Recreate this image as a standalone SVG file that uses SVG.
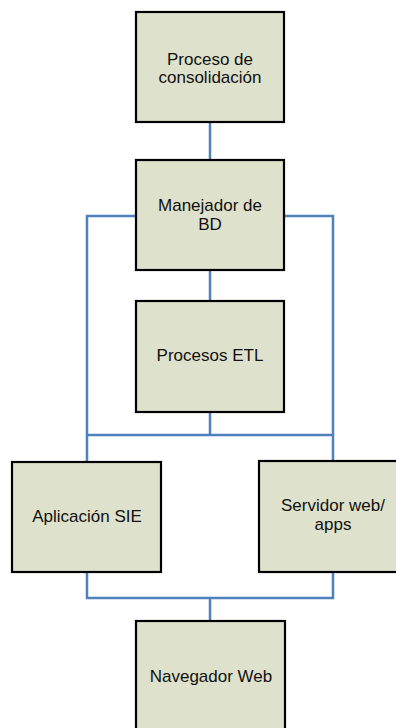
<svg xmlns="http://www.w3.org/2000/svg" width="396" height="728" viewBox="0 0 396 728">
  <style>
    .box { fill: #dee1cb; stroke: #000000; stroke-width: 2.2; }
    .lbl { font-family: "Liberation Sans", Arial, sans-serif; font-size: 17px; fill: #111111; text-anchor: middle; }
    .wire { fill: none; stroke: #4f81bd; stroke-width: 2.5; }
  </style>
  <rect width="396" height="728" fill="#ffffff"/>

  <!-- connectors -->
  <g id="connectors">
    <path class="wire" d="M210,122 V160"/>
    <path class="wire" d="M136,216 H87 V462"/>
    <path class="wire" d="M284,216 H333 V461"/>
    <path class="wire" d="M210,270 V301"/>
    <path class="wire" d="M210,412 V435"/>
    <path class="wire" d="M87,435 H333"/>
    <path class="wire" d="M87,572 V598 H333 V572"/>
    <path class="wire" d="M210,598 V621"/>
  </g>

  <g id="consolidacion">
    <rect class="box" x="136" y="12" width="148" height="110"/>
    <text class="lbl" x="210" y="65">Proceso de</text>
    <text class="lbl" x="210" y="83">consolidación</text>
  </g>

  <g id="manejador-bd">
    <rect class="box" x="136" y="160" width="148" height="110"/>
    <text class="lbl" x="210" y="211">Manejador de</text>
    <text class="lbl" x="210" y="230">BD</text>
  </g>

  <g id="procesos-etl">
    <rect class="box" x="136" y="301" width="148" height="111"/>
    <text class="lbl" x="210" y="361">Procesos ETL</text>
  </g>

  <g id="aplicacion-sie">
    <rect class="box" x="12" y="462" width="149" height="110"/>
    <text class="lbl" x="87" y="522">Aplicación SIE</text>
  </g>

  <g id="servidor-web">
    <rect class="box" x="259" y="461" width="148" height="111"/>
    <text class="lbl" x="333" y="511">Servidor web/</text>
    <text class="lbl" x="333" y="530">apps</text>
  </g>

  <g id="navegador-web">
    <rect class="box" x="136" y="621" width="149" height="110"/>
    <text class="lbl" x="211" y="682">Navegador Web</text>
  </g>
</svg>
